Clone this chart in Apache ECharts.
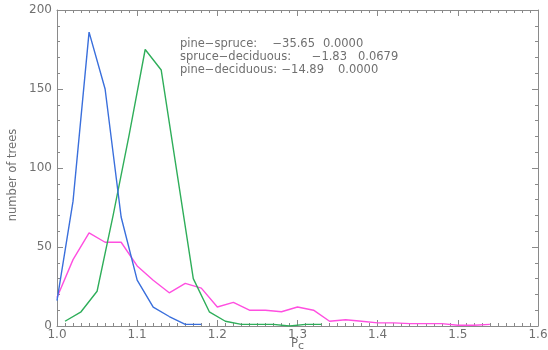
<!DOCTYPE html>
<html>
<head>
<meta charset="utf-8">
<script src="https://cdn.jsdelivr.net/npm/echarts@6/dist/echarts.min.js"></script>
<style>
  html, body { margin: 0; padding: 0; background: #fff; }
  #chart { width: 548px; height: 350px; }
</style>
</head>
<body>
<div id="chart"></div>
<script>
// Histogram bin centres (Pc) and tree counts per forest type
const pineBins = [1.00, 1.02, 1.04, 1.06, 1.08, 1.10, 1.12, 1.14, 1.16, 1.18];
const pineCounts = [16, 79, 186, 150, 69, 29, 12, 6, 1, 1];

const spruceBins = [1.01, 1.03, 1.05, 1.07, 1.09, 1.11, 1.13, 1.15, 1.17, 1.19,
                    1.21, 1.23, 1.25, 1.27, 1.29, 1.31, 1.33];
const spruceCounts = [3, 9, 22, 70, 121, 175, 162, 96, 30, 9,
                      3, 1, 1, 1, 0, 1, 1];

const deciduousBins = [1.00, 1.02, 1.04, 1.06, 1.08, 1.10, 1.12, 1.14, 1.16, 1.18,
                       1.20, 1.22, 1.24, 1.26, 1.28, 1.30, 1.32, 1.34, 1.36, 1.38,
                       1.40, 1.42, 1.44, 1.46, 1.48, 1.50, 1.52, 1.54];
const deciduousCounts = [18, 42, 59, 53, 53, 38, 29, 21, 27, 24,
                         12, 15, 10, 10, 9, 12, 10, 3, 4, 3,
                         2, 2, 1.5, 1.5, 1.5, 0.5, 0.5, 1];

// Pairwise test results: label, t statistic, p value
const testLabels = ['pine\u2212spruce:', 'spruce\u2212deciduous:', 'pine\u2212deciduous:'];
const testStats = ['\u221235.65', '\u22121.83', '\u221214.89'];
const testPValues = ['0.0000', '0.0679', '0.0000'];

const xTicks = { min: 1.0, max: 1.6, interval: 0.1 };
const yTicks = { min: 0, max: 200, interval: 50 };

const pairs = (xs, ys) => xs.map((x, i) => [x, ys[i]]);

const axisGrey = '#8a8a8a';
const textGrey = '#707070';
const font = 'DejaVu Sans';

function boxAxis(extra) {
  return Object.assign({
    type: 'value',
    axisLine: { show: true, onZero: false, lineStyle: { color: axisGrey, width: 1 } },
    axisTick: { show: true, inside: true, length: 6, lineStyle: { color: axisGrey } },
    minorTick: { show: true, length: 3, lineStyle: { color: axisGrey } },
    splitLine: { show: false },
    minorSplitLine: { show: false },
    axisLabel: { show: false }
  }, extra);
}

const lineStyle = (color) => ({
  type: 'line',
  symbol: 'none',
  smooth: false,
  lineStyle: { color: color, width: 1.4 },
  itemStyle: { color: color },
  animation: false,
  z: 3
});

// Annotation rows: label at left, statistic right-aligned, p value after it
const rowY = [45, 58, 71];
const statRight = [315, 347, 324];
const pLeft = [323, 358, 338];
const annFont = '11.5px "' + font + '"';
const graphics = [];
testLabels.forEach((lab, i) => {
  graphics.push({ type: 'text', x: 180, y: rowY[i] - 7,
    style: { text: lab, fill: textGrey, font: annFont, align: 'left', verticalAlign: 'top' } });
  graphics.push({ type: 'text', x: statRight[i], y: rowY[i] - 7,
    style: { text: testStats[i], fill: textGrey, font: annFont, align: 'right', verticalAlign: 'top' } });
  graphics.push({ type: 'text', x: pLeft[i], y: rowY[i] - 7,
    style: { text: testPValues[i], fill: textGrey, font: annFont, align: 'left', verticalAlign: 'top' } });
});

const chart = echarts.init(document.getElementById('chart'), null, { renderer: 'canvas' });
chart.setOption({
  animation: false,
  backgroundColor: '#ffffff',
  grid: { left: 57, right: 10, top: 10, bottom: 24, containLabel: false, outerBoundsMode: 'none' },
  xAxis: [
    boxAxis({
      position: 'bottom',
      min: xTicks.min, max: xTicks.max, interval: xTicks.interval,
      minorTick: { show: true, splitNumber: 10, length: 3, lineStyle: { color: axisGrey } },
      axisLabel: {
        show: true, color: textGrey, fontFamily: font, fontSize: 12, margin: 3,
        formatter: (v) => v.toFixed(1)
      },
      name: '{p|P}{c|c}',
      nameLocation: 'middle',
      nameGap: 12,
      nameMoveOverlap: false,
      nameTextStyle: {
        verticalAlign: 'top',
        rich: {
          p: { color: textGrey, fontFamily: font, fontSize: 11.5, verticalAlign: 'top' },
          c: { color: textGrey, fontFamily: font, fontSize: 11, verticalAlign: 'top', padding: [3, 0, 0, 0] }
        }
      }
    }),
    boxAxis({
      position: 'top',
      min: xTicks.min, max: xTicks.max, interval: xTicks.interval,
      minorTick: { show: true, splitNumber: 10, length: 3, lineStyle: { color: axisGrey } }
    })
  ],
  yAxis: [
    boxAxis({
      position: 'left',
      min: yTicks.min, max: yTicks.max, interval: yTicks.interval,
      minorTick: { show: true, splitNumber: 5, length: 3, lineStyle: { color: axisGrey } },
      axisLabel: { show: true, color: textGrey, fontFamily: font, fontSize: 12, margin: 5 },
      name: 'number of trees',
      nameLocation: 'middle',
      nameGap: 38,
      nameMoveOverlap: false,
      nameRotate: 90,
      nameTextStyle: { color: textGrey, fontFamily: font, fontSize: 11.5, padding: [0, 14, 0, 0] }
    }),
    boxAxis({
      position: 'right',
      min: yTicks.min, max: yTicks.max, interval: yTicks.interval,
      minorTick: { show: true, splitNumber: 5, length: 3, lineStyle: { color: axisGrey } }
    })
  ],
  series: [
    Object.assign(lineStyle('#ff4fe0'), { name: 'deciduous', data: pairs(deciduousBins, deciduousCounts) }),
    Object.assign(lineStyle('#2fae5a'), { name: 'spruce', data: pairs(spruceBins, spruceCounts) }),
    Object.assign(lineStyle('#3a6fdc'), { name: 'pine', data: pairs(pineBins, pineCounts) })
  ],
  graphic: graphics
});
</script>
</body>
</html>
